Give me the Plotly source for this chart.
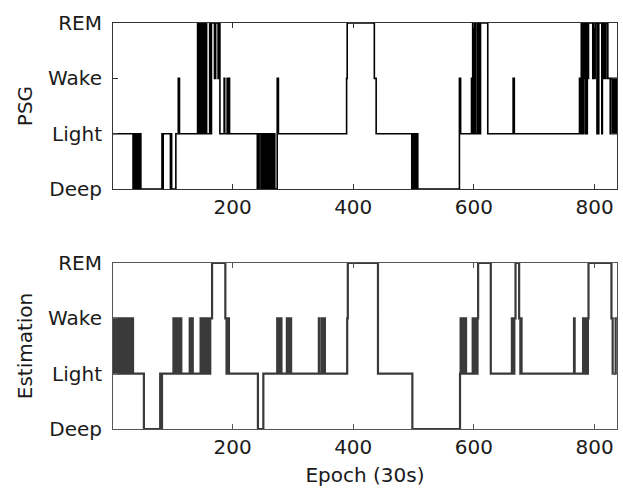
import plotly.graph_objects as go

# Stage codes: 0 = Deep, 1 = Light, 2 = Wake, 3 = REM
stage_labels = ["Deep", "Light", "Wake", "REM"]
x_ticks = [200, 400, 600, 800]
last_epoch = 838

# PSG hypnogram: epoch where each run starts, and the stage of that run
psg_start = [1,
    35, 36, 37, 38, 39, 40, 41, 42, 43, 44, 46, 47, 48,
    83, 84, 85, 97, 98, 99, 106, 110, 112,
    142, 143, 144, 145, 146, 147, 148, 149, 150, 151, 152, 153, 154, 155, 156, 157,
    162, 163, 165, 170, 172, 176, 177, 179, 186, 187, 191, 192, 194, 195,
    241, 242, 243, 244, 247, 248, 249, 250, 251, 252, 253, 254, 255, 256, 258, 259,
    260, 261, 262, 263, 264, 265, 266, 267, 268, 269, 270, 274, 276,
    389, 390, 435, 438,
    497, 498, 499, 500, 501, 502, 503, 504, 505, 506, 507,
    576, 578, 596, 597, 598, 599, 600, 601, 602, 603, 606, 607, 608, 609, 611, 623,
    665, 667,
    775, 777, 778, 779, 780, 781, 782, 783, 784, 785, 786, 787, 788, 789, 790,
    797, 798, 800, 801, 804, 805, 806, 807, 812, 813, 815, 816, 818, 819, 822,
    826, 827, 830, 831, 832, 833, 834, 835, 836, 837]
psg_stage = [1,
    0, 1, 0, 1, 0, 1, 0, 1, 0, 1, 0, 1, 0,
    1, 0, 1, 0, 1, 0, 1, 2, 1,
    3, 1, 3, 1, 3, 1, 3, 1, 3, 1, 3, 1, 3, 1, 3, 1,
    3, 1, 3, 2, 3, 2, 3, 1, 2, 1, 2, 1, 2, 1,
    0, 1, 0, 1, 0, 1, 0, 1, 0, 1, 0, 1, 0, 1, 0, 1,
    0, 1, 0, 1, 0, 1, 0, 1, 0, 1, 0, 2, 1,
    2, 3, 2, 1,
    0, 1, 0, 1, 0, 1, 0, 1, 0, 1, 0,
    2, 1, 2, 1, 3, 1, 3, 1, 3, 1, 3, 1, 3, 1, 3, 1,
    2, 1,
    2, 1, 3, 1, 3, 1, 3, 2, 3, 1, 3, 1, 3, 2, 3,
    2, 3, 2, 3, 1, 3, 1, 3, 1, 3, 2, 3, 2, 3, 2,
    1, 2, 1, 2, 1, 2, 1, 2, 1, 2]

# Estimated hypnogram
est_start = [1,
    2, 3, 4, 5, 6, 7, 8, 9, 10, 11, 12, 13, 16, 17, 18, 19, 20, 21, 22, 23,
    26, 27, 28, 29, 30, 31, 34, 35,
    53, 80, 81, 83,
    102, 103, 104, 105, 106, 107, 108, 109, 110, 111, 112, 113, 114, 115,
    129, 130, 133, 134,
    147, 148, 149, 150, 151, 152, 153, 154, 155, 156, 157, 158, 159, 160, 161, 162, 163, 166,
    188, 190, 191, 192, 193, 194,
    242, 251,
    274, 275, 276, 277, 278, 279, 280, 281,
    290, 291, 292, 293, 294, 295, 296, 297,
    343, 344, 348, 349, 350, 351, 352, 353,
    390, 391, 441, 498,
    577, 578, 579, 580, 581, 582, 583, 584, 585, 586, 587,
    598, 599, 600, 601, 602, 603, 604, 605, 606, 607,
    628, 663, 664, 665, 666, 667, 669, 675, 677, 678, 679,
    766, 767, 781, 782, 783, 784, 785, 786, 787, 788, 789, 790,
    828, 830, 835]
est_stage = [1,
    2, 1, 2, 1, 2, 1, 2, 1, 2, 1, 2, 1, 2, 1, 2, 1, 2, 1, 2, 1,
    2, 1, 2, 1, 2, 1, 2, 1,
    0, 1, 0, 1,
    2, 1, 2, 1, 2, 1, 2, 1, 2, 1, 2, 1, 2, 1,
    2, 1, 2, 1,
    2, 1, 2, 1, 2, 1, 2, 1, 2, 1, 2, 1, 2, 1, 2, 1, 2, 3,
    2, 1, 2, 1, 2, 1,
    0, 1,
    2, 1, 2, 1, 2, 1, 2, 1,
    2, 1, 2, 1, 2, 1, 2, 1,
    2, 1, 2, 1, 2, 1, 2, 1,
    2, 3, 1, 0,
    1, 2, 1, 2, 1, 2, 1, 2, 1, 2, 1,
    2, 1, 2, 1, 2, 1, 2, 1, 2, 3,
    1, 2, 1, 2, 1, 2, 3, 2, 1, 2, 1,
    2, 1, 2, 1, 2, 1, 2, 1, 2, 1, 2, 3,
    2, 1, 2]

FONT = "DejaVu Sans, Liberation Sans, Arial, sans-serif"
FS = 20
TXT = "#1a1a1a"

fig = go.Figure()
fig.add_trace(go.Scatter(
    x=psg_start + [last_epoch], y=psg_stage + [psg_stage[-1]],
    mode="lines", line=dict(color="#000000", width=1.6, shape="hv"),
    xaxis="x", yaxis="y", showlegend=False, hoverinfo="skip"))
fig.add_trace(go.Scatter(
    x=est_start + [last_epoch], y=est_stage + [est_stage[-1]],
    mode="lines", line=dict(color="#3a3a3a", width=2.2, shape="hv"),
    xaxis="x2", yaxis="y2", showlegend=False, hoverinfo="skip"))

def xax(domain_anchor, title=None, color="#333333"):
    d = dict(range=[1.8, 837.2], tickvals=x_ticks, ticktext=[str(v) for v in x_ticks],
             ticks="inside", ticklen=5, tickcolor=color, tickwidth=1,
             showline=True, linecolor=color, linewidth=1, mirror="ticks",
             showgrid=False, zeroline=False, anchor=domain_anchor,
             tickfont=dict(family=FONT, size=FS, color=TXT),
             ticklabelstandoff=0, automargin=False)
    if title:
        d["title"] = dict(text=title, font=dict(family=FONT, size=FS, color=TXT), standoff=9)
    return d

def yax(domain, anchor, title, color="#333333"):
    return dict(range=[0, 3], domain=domain, anchor=anchor,
                tickvals=[0, 1, 2, 3], ticktext=stage_labels,
                ticks="inside", ticklen=5, tickcolor=color, tickwidth=1,
                showline=True, linecolor=color, linewidth=1, mirror="ticks",
                showgrid=False, zeroline=False,
                tickfont=dict(family=FONT, size=FS, color=TXT),
                ticklabelstandoff=6, automargin=False,
                title=dict(text=title, font=dict(family=FONT, size=FS, color=TXT), standoff=10))

fig.update_layout(
    width=623, height=489,
    margin=dict(l=113, r=6, t=23, b=60),
    paper_bgcolor="white", plot_bgcolor="white",
    xaxis=xax("y"),
    yaxis=yax([0.591, 1.0], "x", "PSG"),
    xaxis2=xax("y2", "Epoch (30s)", color="#555555"),
    yaxis2=yax([0.0, 0.409], "x2", "Estimation", color="#555555"),
)

fig.write_html(
    "out.html",
    config={"displayModeBar": False},
    post_script="document.body.style.margin='0';document.body.style.overflow='hidden';")
